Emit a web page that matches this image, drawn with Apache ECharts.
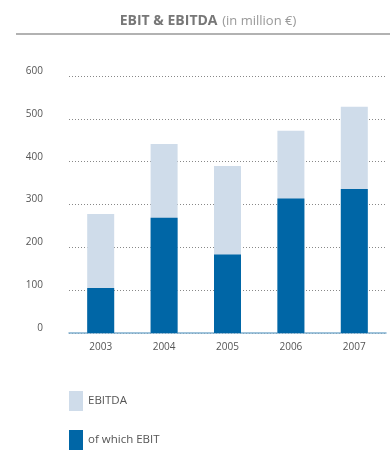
<!DOCTYPE html>
<html><head><meta charset="utf-8">
<script src="https://cdn.jsdelivr.net/npm/echarts@6/dist/echarts.min.js"></script>
<style>html,body{margin:0;padding:0;background:#fff}#c{width:390px;height:452px}</style>
</head><body><div id="c"></div>
<script>
const years = ['2003','2004','2005','2006','2007'];
const ebitda = [278, 441, 390, 472, 528];
const ebit = [105, 269, 183, 314, 336];
const yTicks = [0, 100, 200, 300, 400, 500, 600];

const chart = echarts.init(document.getElementById('c'));
chart.setOption({
  animation: false,
  textStyle: {fontFamily: 'Open Sans'},
  title: {
    text: '{b|EBIT & EBITDA} {l|(in million €)}',
    left: 203, top: 7, textAlign: 'center',
    textStyle: {rich: {
      b: {fontFamily: 'Open Sans', fontWeight: 'bold', fontSize: 14, color: '#777'},
      l: {fontFamily: 'Open Sans', fontWeight: 'normal', fontSize: 13, color: '#999'}
    }}
  },
  graphic: [{type: 'line', shape: {x1: 16, y1: 34, x2: 390, y2: 34}, style: {stroke: '#999', lineWidth: 1.5}}],
  grid: {left: 69, right: 4, top: 76, bottom: 119, containLabel: false},
  legend: {
    orient: 'vertical', left: 69, top: 391, padding: 0, itemWidth: 14, itemHeight: 20, itemGap: 19,
    icon: 'rect',
    textStyle: {fontSize: 11.5, color: '#555', padding: [9, 0, 0, 0]},
    data: ['EBITDA', 'of which EBIT']
  },
  xAxis: {
    type: 'category', data: years,
    axisLine: {lineStyle: {color: '#80b0d0', width: 1.5}},
    axisTick: {show: false},
    axisLabel: {color: '#555', fontSize: 10, margin: 9}
  },
  yAxis: {
    type: 'value', min: yTicks[0], max: yTicks[yTicks.length - 1], interval: 100,
    axisLine: {show: false}, axisTick: {show: false},
    axisLabel: {color: '#555', fontSize: 10, margin: 26, verticalAlign: 'bottom'},
    splitLine: {lineStyle: {color: '#888', type: [1, 2], width: 1}}
  },
  series: [
    {name: 'EBITDA', type: 'bar', data: ebitda, barWidth: 27, barGap: '-100%', itemStyle: {color: '#cfdcea'}},
    {name: 'of which EBIT', type: 'bar', data: ebit, barWidth: 27, itemStyle: {color: '#0066a6'}}
  ]
});
</script></body></html>
